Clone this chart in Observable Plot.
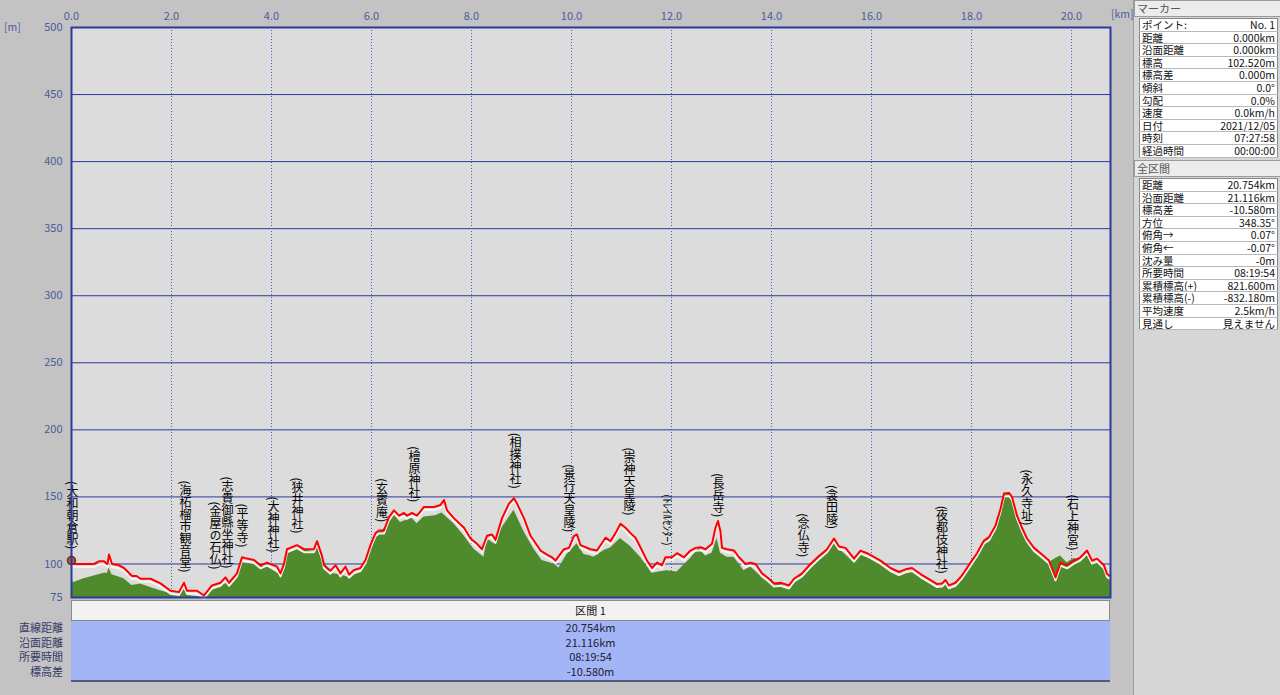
<!DOCTYPE html>
<html><head><meta charset="utf-8">
<script src="https://cdn.jsdelivr.net/npm/d3@7"></script>
<script src="https://cdn.jsdelivr.net/npm/@observablehq/plot@0.6"></script>
<style>
body{margin:0;width:1280px;height:695px;overflow:hidden;position:relative;background:#c3c3c3;font-family:"Noto Sans CJK JP","Noto Sans",sans-serif;}
#chart{position:absolute;left:0;top:0}
.unit{position:absolute;font-size:10.5px;color:#4b5b9b;line-height:12px}
#secHead{position:absolute;left:71px;top:600px;width:1037px;height:19px;background:#f2f2f2;border:1px solid #8a8a8a;font-size:11px;text-align:center;line-height:19px;color:#111}
#secBody{position:absolute;left:71px;top:621px;width:1039px;height:59px;background:#a3b5f7;border-bottom:2px solid #555a80;}
.secVal{position:absolute;left:0;width:1039px;text-align:center;font-size:11px;color:#223;line-height:14px}
.secLab{position:absolute;font-size:11px;color:#333a66;line-height:14px;text-align:right;white-space:nowrap}
#panel{position:absolute;left:1133px;top:0;width:147px;height:695px;background:#d6d6d6;border-left:1px solid #9a9a9a}
.ph{position:absolute;left:0;width:144px;height:15px;background:#ececec;border:1px solid #9a9a9a;font-size:11px;line-height:15px;padding-left:2px;color:#555}
.pt{position:absolute;left:5px;width:139px;background:#fff;border:1px solid #888;border-collapse:collapse;font-size:10.5px}
.pt td{border-bottom:1px solid #b8b8b8;height:11.6px;line-height:11.6px;padding:0 2px;white-space:nowrap;color:#111;overflow:hidden}
.pt td.v{text-align:right}
</style></head>
<body>
<div id="chart"></div>
<div class="unit" style="left:4px;top:21px">[m]</div>
<div class="unit" style="left:1111px;top:8px">[km]</div>
<div id="secHead"></div>
<div id="secBody"></div>
<div id="panel"></div>
<script>
// ---- data ----
const trackKm = [0.00,0.05,0.25,0.45,0.55,0.65,0.72,0.75,0.81,0.95,1.05,1.21,1.30,1.38,1.58,1.78,1.98,2.15,2.25,2.31,2.51,2.65,2.81,2.98,3.08,3.15,3.31,3.41,3.51,3.65,3.78,3.91,4.11,4.18,4.25,4.31,4.51,4.65,4.85,4.91,5.01,5.05,5.18,5.28,5.38,5.48,5.55,5.65,5.78,5.88,5.98,6.08,6.15,6.25,6.35,6.45,6.55,6.65,6.71,6.81,6.91,7.05,7.25,7.38,7.45,7.51,7.65,7.85,7.98,8.11,8.21,8.31,8.41,8.48,8.61,8.75,8.85,8.91,9.05,9.18,9.38,9.51,9.61,9.68,9.75,9.85,9.95,10.05,10.11,10.18,10.38,10.51,10.68,10.78,10.88,10.98,11.08,11.18,11.28,11.41,11.51,11.61,11.71,11.81,11.88,12.01,12.11,12.25,12.38,12.48,12.58,12.68,12.81,12.88,12.93,12.98,13.01,13.11,13.25,13.35,13.48,13.58,13.68,13.81,13.95,14.05,14.18,14.35,14.45,14.61,14.78,14.95,15.11,15.25,15.35,15.48,15.65,15.78,15.91,16.01,16.18,16.38,16.55,16.68,16.81,16.98,17.18,17.31,17.41,17.48,17.55,17.68,17.81,17.98,18.11,18.25,18.35,18.48,18.58,18.65,18.75,18.81,18.91,19.01,19.11,19.25,19.38,19.55,19.68,19.78,19.91,20.05,20.18,20.31,20.41,20.51,20.65,20.71,20.75];
const trackElev = [102.5,100,100,100,102,102,100,107,100,99,97,91,91,89,89,85.5,80,79,86,80,80,76.5,84,86,90,86,93,105,104,103,99,101,98,93,100,111,114,111,111,117,106,99,95,99,93,98,92,95.5,97,103,114,123,125,125,135,140,136,138,136,138,136,142.5,142.5,144,147.6,140,134,127,119,115,111,121,122,118,134,145,149,145,134,121,110,107,105,102.5,106,111,112,121,122,114,111,110,119.6,117,123,130,127,123,119.6,110,102.5,97,101,99,105,105,108,105,110,112,112.5,111,115,127,132,124,112,111,110,105,100,101,100,93,89,85.5,86,84,89,93,100,106,111,119,113,112,104,110,108,106,102.5,97,94,96,97,92.5,88,85,85.5,88,84,86,91.5,101,108,117.5,120,128.6,141,152.5,153,150,136,127,119,112,108,102.5,90,101,99,102.5,105,110,102.5,104,99,92.5,91.5];
const groundKm = [0.00,0.03,0.25,0.45,0.65,0.72,0.75,0.81,1.05,1.21,1.38,1.58,1.78,1.98,2.15,2.25,2.33,2.65,2.81,2.98,3.15,3.31,3.41,3.65,3.91,4.18,4.31,4.51,4.85,4.91,5.01,5.18,5.38,5.55,5.78,5.98,6.08,6.31,6.45,6.58,6.81,6.91,7.05,7.28,7.41,7.65,7.85,8.05,8.25,8.31,8.45,8.61,8.85,9.05,9.25,9.41,9.65,9.75,9.91,10.11,10.25,10.38,10.45,10.65,10.78,10.98,11.18,11.38,11.61,11.75,11.91,12.11,12.38,12.55,12.68,12.81,12.91,12.98,13.11,13.25,13.45,13.58,13.78,14.01,14.18,14.35,14.58,14.85,15.25,15.45,15.51,15.65,15.78,15.91,16.01,16.18,16.38,16.55,16.68,16.81,16.98,17.18,17.31,17.41,17.48,17.55,17.68,17.81,17.98,18.11,18.25,18.35,18.48,18.58,18.65,18.75,18.81,18.91,19.01,19.11,19.25,19.38,19.55,19.68,19.78,19.91,20.05,20.18,20.31,20.41,20.51,20.65,20.71,20.78];
const groundElev = [93,86,89,91,93,93,97,92,89,84,85,82.5,80,78,76.5,81,76.5,75,80,84,86,92,101,99.6,98,91.5,108,112,109,115,105,93,92,90,94,110,121,128,137,131,134,130,135,136,138,130,121,111,105,119,115,127,140,124,111,102.5,100,97,107,115,107,106,105,110,112,119,113,105,93,94,95,94,104,112,106,108,119,108,105,105,95,98,91,84,85,81,91,101,115,108,106,101,108,106,104,100,95,92,94,95,90,86,83,83.5,86,82,84,90,99,106,116,119,127,140,151,152,148,134,125,117,110,106,101,104,106,101,104,103,108,101,102,97,91,90];
const landmarkNames = ["大和朝倉駅","海柘榴市観音堂","金屋の石仏","志貴御縣坐神社","平等寺","大神神社","狭井神社","玄賓庵","檜原神社","相撲神社","景行天皇陵","崇神天皇陵","ﾄﾚｲﾙｾﾝﾀｰ","長岳寺","念仏寺","衾田陵","夜都伎神社","永久寺址","石上神宮"];
const landmarkKm = [0.02,2.28,2.88,3.12,3.42,4.04,4.52,6.21,6.86,8.88,9.96,11.16,11.91,12.94,14.64,15.21,17.41,19.11,20.03];
const landmarkElev = [111,93.6,95.8,96.6,112.2,108.5,122.7,131.1,146,156,123.6,136,113.7,134.8,105,126,92.6,128.6,110];
const yTicks = [500,450,400,350,300,250,200,150,100,75];
const yGridLines = [450,400,350,300,250,200,150,100];
const xTicks = [0,2,4,6,8,10,12,14,16,18,20];
const xGridLines = [2,4,6,8,10,12,14,16,18,20];
const startPoint = [{km:0, elev:102.5}];
const sectionTitle = "区間 1";
const sectionLabels = ["直線距離","沿面距離","所要時間","標高差"];
const sectionValues = ["20.754km","21.116km","08:19:54","-10.580m"];
const markerTitle = "マーカー";
const markerKeys = ["ポイント:","距離","沿面距離","標高","標高差","傾斜","勾配","速度","日付","時刻","経過時間"];
const markerValues = ["No. 1","0.000km","0.000km","102.520m","0.000m","0.0°","0.0%","0.0km/h","2021/12/05","07:27:58","00:00:00"];
const totalTitle = "全区間";
const totalKeys = ["距離","沿面距離","標高差","方位","俯角→","俯角←","沈み量","所要時間","累積標高(+)","累積標高(-)","平均速度","見通し"];
const totalValues = ["20.754km","21.116km","-10.580m","348.35°","0.07°","-0.07°","-0m","08:19:54","821.600m","-832.180m","2.5km/h","見えません"];

// ---- build ----
const track = trackKm.map((k,i)=>({km:k, elev:trackElev[i]}));
const ground = groundKm.map((k,i)=>({km:k, elev:groundElev[i]}));
const isHalf = s => /[\uFF61-\uFF9F]/.test(s);
const landmarks = landmarkNames.map((n,i)=>({name:n, label:"("+n+")", km:landmarkKm[i], elev:landmarkElev[i]}));
const labelSet = new Set(landmarks.filter(d=>!isHalf(d.name)).map(d=>d.label));
const navy = "#2b3a9c";

function makePlot(vertical){
  const full = landmarks.filter(d=>!isHalf(d.name));
  const half = landmarks.filter(d=>isHalf(d.name));
  const textMark = vertical
    ? Plot.text(full, {x:"km", y:"elev", text:"label", fontSize:12, fill:"#000", textAnchor:"end", lineAnchor:"bottom"})
    : Plot.text(full, {x:"km", y:"elev", text:d=>["︵",...d.name,"︶"].join("\n"), fontSize:11, lineHeight:0.95, fill:"#000", lineAnchor:"bottom"});
  return Plot.plot({
    width:1130, height:600,
    marginLeft:71, marginRight:20, marginTop:27, marginBottom:3,
    style:{background:"transparent", fontFamily:"'Noto Sans CJK JP',sans-serif", fontSize:"11px", overflow:"visible"},
    x:{domain:[0,20.78], label:null},
    y:{domain:[75,500], label:null},
    marks:[
      Plot.frame({fill:"#dcdcdc", stroke:null}),
      Plot.gridY(yGridLines, {stroke:navy, strokeOpacity:1, strokeWidth:1}),
      Plot.gridX(xGridLines, {stroke:"#4a5ab8", strokeOpacity:1, strokeDasharray:"1,2"}),
      Plot.areaY(ground, {x:"km", y1:75, y2:"elev", fill:"#4f8b2d"}),
      Plot.line(track, {x:"km", y:"elev", stroke:"#f4f4f4", strokeWidth:2, dy:3}),
      Plot.line(track, {x:"km", y:"elev", stroke:"#ff0000", strokeWidth:2}),
      Plot.dot(startPoint, {x:"km", y:"elev", r:4, fill:"#c0504d", stroke:"#6b2b20"}),
      textMark,
      Plot.text(half, {x:"km", y:"elev", text:"label", fontSize:11, fill:"#000", rotate:90, textAnchor:"end", lineAnchor:"middle"}),
      Plot.axisY(yTicks, {tickSize:0, tickPadding:9, color:"#4b5b9b", fontSize:11, label:null}),
      Plot.axisX(xTicks, {anchor:"top", tickSize:0, tickPadding:8, color:"#4b5b9b", fontSize:11, label:null, tickFormat:d3.format(".1f")}),
      Plot.frame({stroke:navy, strokeWidth:2})
    ]
  });
}
const holder = document.getElementById("chart");
let plot = makePlot(true);
holder.appendChild(plot);
const labelTexts = Array.from(plot.querySelectorAll("text")).filter(t=>labelSet.has(t.textContent));
labelTexts.forEach(t=>{
  t.removeAttribute("y");
  t.setAttribute("writing-mode","vertical-rl");
  t.style.writingMode = "vertical-rl";
  t.setAttribute("text-anchor","end");
});
let ok = false;
if (labelTexts.length) {
  const bb = labelTexts[0].getBBox();
  ok = bb.height > bb.width * 1.5;
}
if (!ok) {
  plot.remove();
  plot = makePlot(false);
  holder.appendChild(plot);
}

// bottom section
document.getElementById("secHead").textContent = sectionTitle;
const body = document.getElementById("secBody");
sectionValues.forEach((v,i)=>{
  const d=document.createElement("div"); d.className="secVal"; d.style.top=(i*14.7-1)+"px"; d.textContent=v; body.appendChild(d);
  const l=document.createElement("div"); l.className="secLab"; l.style.top=(620+i*14.7)+"px"; l.style.right=(1280-63)+"px"; l.textContent=sectionLabels[i]; document.body.appendChild(l);
});
// right panel
const panel = document.getElementById("panel");
function header(t, top){const h=document.createElement("div"); h.className="ph"; h.style.top=top+"px"; h.textContent=t; panel.appendChild(h);}
function table(keys, vals, top){
  const t=document.createElement("table"); t.className="pt"; t.style.top=top+"px";
  keys.forEach((k,i)=>{const r=t.insertRow(); const a=r.insertCell(); a.textContent=k; const b=r.insertCell(); b.className="v"; b.textContent=vals[i];});
  panel.appendChild(t);
}
header(markerTitle, 0);
table(markerKeys, markerValues, 18);
header(totalTitle, 160);
table(totalKeys, totalValues, 178);
</script>
</body></html>
